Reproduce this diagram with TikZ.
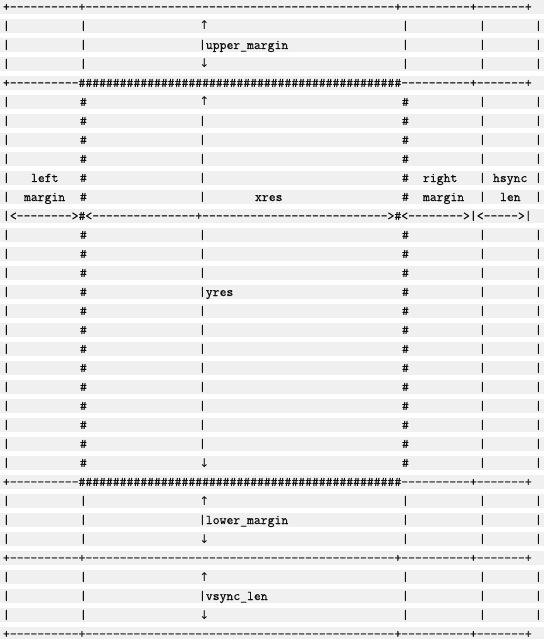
\documentclass[tikz,border=0pt]{standalone}
\usepackage{fontspec}
\setmonofont{Latin Modern Mono}[FakeBold=0.6]
\newfontfamily\arrowfont{DejaVu Sans}
\definecolor{band}{RGB}{240,240,240}
\definecolor{ink}{RGB}{15,15,15}
\newcommand\rep[2]{\ifnum\numexpr#1\relax>0 #2\expandafter\rep\expandafter{\the\numexpr#1-1\relax}{#2}\fi}
\tikzset{txt/.style={anchor=west, inner sep=0pt, outer sep=0pt, text height=8pt, text depth=0pt,
  font=\ttfamily\fontsize{13.333}{13.333}\selectfont, text=ink},
  arr/.style={anchor=center, inner sep=0pt, outer sep=0pt, text height=8pt, text depth=0pt,
  font=\arrowfont\fontsize{12}{12}\selectfont, text=ink}}
\newcommand\T[3]{\node[txt] (r#1c#2) at ({3+7*(#2)},{7+19*(#1)}) {#3};}
\newcommand\A[2]{\node[arr] (a#1) at ({3+7*28+5.5},{7+19*(#1)}) {#2};}
\begin{document}
\begin{tikzpicture}[x=1pt,y=-1pt]
\useasboundingbox (0,0) rectangle (544,639);
\foreach \r in {0,...,33} {\fill[band] (0,{19*\r}) rectangle (544,{19*\r+14});}
% border rows
\foreach \r in {0,29,33} {\T{\r}{0}{+\rep{10}{-}+\rep{45}{-}+\rep{10}{-}+\rep{7}{-}+}}
\foreach \r in {4,25} {\T{\r}{0}{+\rep{10}{-}\rep{47}{\#}\rep{10}{-}+\rep{7}{-}+}}
% margin bands
\foreach \r in {1,2,3,26,27,28,30,31,32} {\T{\r}{0}{|}\T{\r}{11}{|}\T{\r}{57}{|}\T{\r}{68}{|}\T{\r}{76}{|}}
\foreach \r in {1,26,30} {\A{\r}{↑}}
\foreach \r in {3,28,32} {\A{\r}{↓}}
\T{2}{28}{|upper\_margin}
\T{27}{28}{|lower\_margin}
\T{31}{28}{|vsync\_len}
% visible area
\foreach \r in {5,6,7,8,9,10,12,13,14,15,16,17,18,19,20,21,22,23,24} {\T{\r}{0}{|}\T{\r}{11}{\#}\T{\r}{57}{\#}\T{\r}{68}{|}\T{\r}{76}{|}}
\foreach \r in {6,7,8,9,10,12,13,14,16,17,18,19,20,21,22,23} {\T{\r}{28}{|}}
\A{5}{↑}
\A{24}{↓}
\T{15}{28}{|yres}
\T{9}{4}{left}
\T{9}{60}{right}
\T{9}{70}{hsync}
\T{10}{3}{margin}
\T{10}{36}{xres}
\T{10}{60}{margin}
\T{10}{71}{len}
\T{11}{0}{|<\rep{8}{-}>\#<\rep{15}{-}+\rep{27}{-}>\#<\rep{8}{-}>|<\rep{5}{-}>|}
\end{tikzpicture}
\end{document}
